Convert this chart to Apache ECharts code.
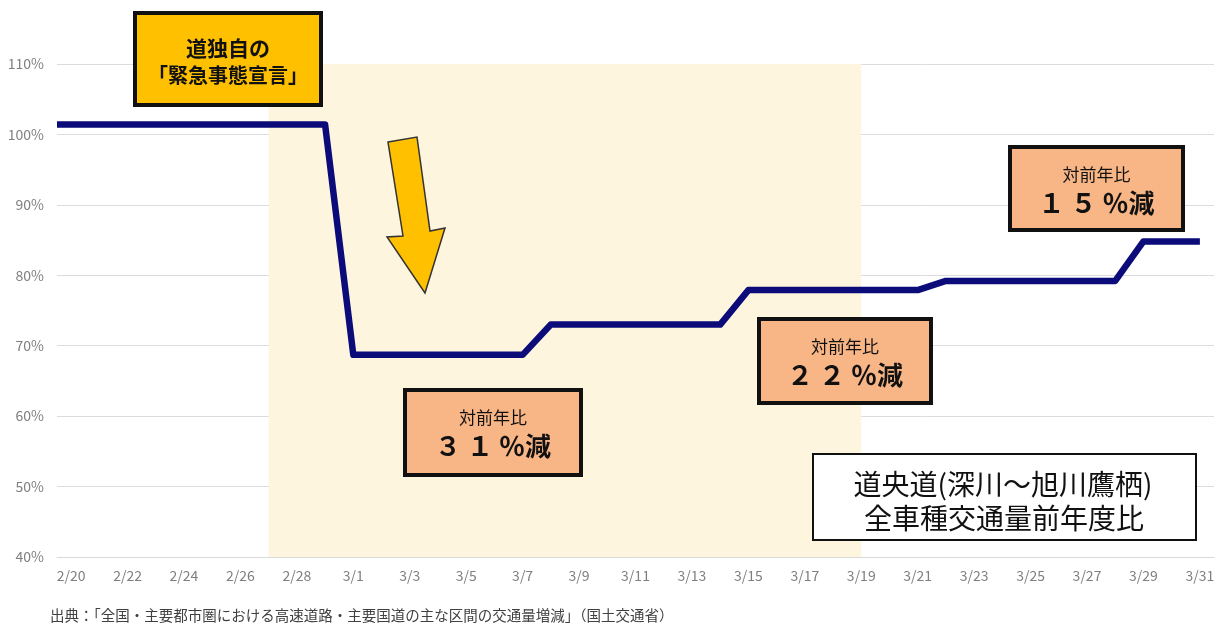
<!DOCTYPE html>
<html>
<head>
<meta charset="utf-8">
<script src="https://cdn.jsdelivr.net/npm/echarts@6/dist/echarts.min.js"></script>
<style>
html,body{margin:0;padding:0;background:#fff;}
#chart{width:1226px;height:624px;}
</style>
</head>
<body>
<div id="chart"></div>
<script>
const categories = ['2/20','2/21','2/22','2/23','2/24','2/25','2/26','2/27','2/28','2/29',
  '3/1','3/2','3/3','3/4','3/5','3/6','3/7','3/8','3/9','3/10','3/11','3/12','3/13','3/14',
  '3/15','3/16','3/17','3/18','3/19','3/20','3/21','3/22','3/23','3/24','3/25','3/26','3/27','3/28',
  '3/29','3/30','3/31'];
const trafficRatio = [101.4,101.4,101.4,101.4,101.4,101.4,101.4,101.4,101.4,101.4,
  68.7,68.7,68.7,68.7,68.7,68.7,68.7,
  73.0,73.0,73.0,73.0,73.0,73.0,73.0,
  77.9,77.9,77.9,77.9,77.9,77.9,77.9,
  79.2,79.2,79.2,79.2,79.2,79.2,79.2,
  84.8,84.8,84.8];
const yTicks = [40,50,60,70,80,90,100,110];
const shadeFrom = '2/27';
const shadeTo = '3/19';
const declarationText = ['道独自の', '「緊急事態宣言」'];
const callouts = [
  {small:'対前年比', big:'３ １ ％減'},
  {small:'対前年比', big:'２ ２ ％減'},
  {small:'対前年比', big:'１ ５ ％減'}
];
const titleLines = ['道央道(深川～旭川鷹栖)', '全車種交通量前年度比'];
const sourceText = '出典：「全国・主要都市圏における高速道路・主要国道の主な区間の交通量増減」（国土交通省）';

const FONT = '"Noto Sans CJK JP", "Noto Sans", sans-serif';
const xMin = -0.5, xMax = categories.length - 0.5;
// line data on hidden value axis aligned with category band centres; extends to axis start like the original
const lineData = [[xMin, trafficRatio[0]]].concat(trafficRatio.map((v, i) => [i, v]));

const chart = echarts.init(document.getElementById('chart'));

function box(x, y, w, h, fill, bw) {
  return {type:'rect', shape:{x:x + bw/2, y:y + bw/2, width:w - bw, height:h - bw},
    style:{fill:fill, stroke:'#111', lineWidth:bw}, z:100};
}
function txt(x, y, text, size, weight, color) {
  return {type:'text', x:x, y:y, z:101,
    style:{text:text, font: weight + ' ' + size + 'px ' + FONT, fill:color || '#111',
      textAlign:'center', textVerticalAlign:'middle'}};
}

const calloutBoxes = [
  {x:403, y:388, w:180, h:89},
  {x:757, y:317, w:176, h:88},
  {x:1008, y:145, w:177, h:87}
];
const graphics = [];
graphics.push(box(133, 11, 190, 96, '#FFC000', 4));
graphics.push(txt(228, 48, declarationText[0], 21, 'bold'));
graphics.push(txt(228, 75, declarationText[1], 20, 'bold'));
graphics.push({type:'polygon', z:100, shape:{points:[[388,142],[417,137],[430,231],[445,228],[425,293],[387,237],[403,236]]},
  style:{fill:'#FFC000', stroke:'#333', lineWidth:1.5}});
callouts.forEach((c, i) => {
  const b = calloutBoxes[i];
  graphics.push(box(b.x, b.y, b.w, b.h, '#F8B585', 4));
  graphics.push(txt(b.x + b.w/2, b.y + 30, c.small, 17, 'normal'));
  graphics.push(txt(b.x + b.w/2, b.y + 58, c.big, 26, 'bold'));
});
graphics.push(box(812, 453, 385, 88, '#ffffff', 2));
graphics.push(txt(1003, 484, titleLines[0], 28, 'normal'));
graphics.push(txt(1004, 518, titleLines[1], 28, 'normal'));
graphics.push({type:'text', x:50, y:615, z:101,
  style:{text:sourceText, font:'normal 14.5px ' + FONT, fill:'#404040', textVerticalAlign:'middle'}});

chart.setOption({
  animation:false,
  backgroundColor:'#ffffff',
  grid:{left:57, right:12, top:64, bottom:67},
  xAxis:[{
    type:'category', data:categories, boundaryGap:true,
    axisLine:{lineStyle:{color:'#d9d9d9', width:1}},
    axisTick:{interval:1, alignWithLabel:false, length:5, lineStyle:{color:'#c8c8c8'}},
    axisLabel:{interval:1, color:'#7f7f7f', fontSize:14, margin:12, fontFamily:FONT}
  },{
    type:'value', min:xMin, max:xMax, show:false
  }],
  yAxis:{
    type:'value', min:yTicks[0], max:yTicks[yTicks.length-1], interval:10,
    axisLine:{show:false}, axisTick:{show:false},
    axisLabel:{formatter:'{value}%', color:'#7f7f7f', fontSize:14, margin:13, fontFamily:FONT},
    splitLine:{lineStyle:{color:'#dcdcdc', width:1}}
  },
  series:[{
    type:'line', xAxisIndex:0, data:[], silent:true,
    markArea:{silent:true, itemStyle:{color:'#FEF5DF'},
      data:[[{xAxis:shadeFrom, yAxis:yTicks[0]},{xAxis:shadeTo, yAxis:yTicks[yTicks.length-1]}]]}
  },{
    type:'line', xAxisIndex:1, data:lineData, symbol:'none', z:5,
    lineStyle:{color:'#0b0b7a', width:6.5, cap:'butt', join:'round'}
  }],
  graphic:graphics
});
</script>
</body>
</html>
